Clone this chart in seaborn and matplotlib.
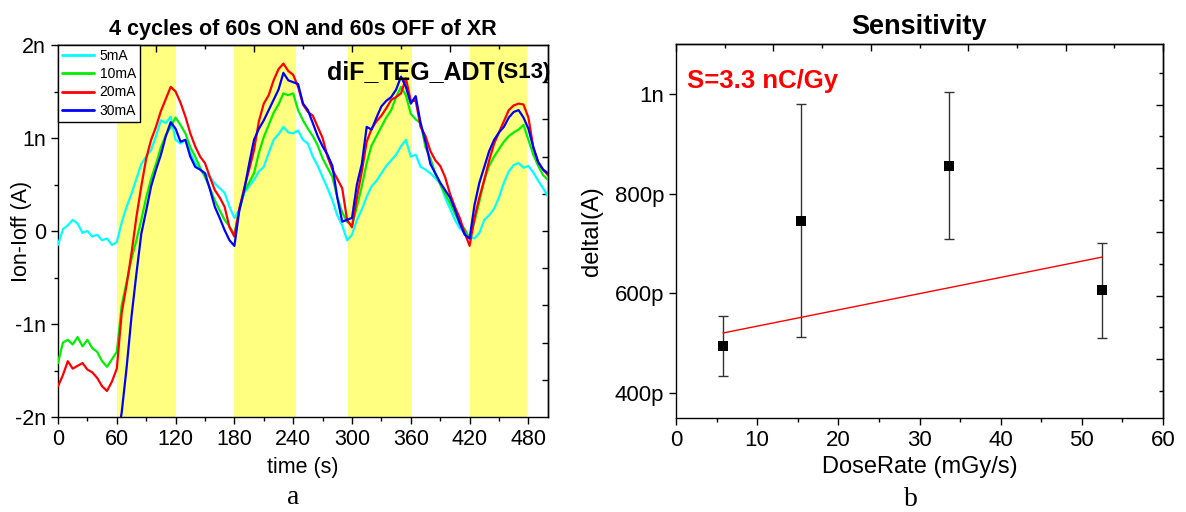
import numpy as np
import pandas as pd
import matplotlib
matplotlib.use("Agg")
import matplotlib.pyplot as plt
from matplotlib.ticker import FuncFormatter, MultipleLocator
from matplotlib.lines import Line2D
import seaborn as sns

# ---------------- data: panel a ----------------
time_s = np.arange(0, 501, 5)
series_names = ["5mA", "10mA", "20mA", "30mA"]
series_colors = ["#00ffff", "#00f000", "#ff0000", "#0000ff"]

i_5mA = [
    -0.15, 0.02, 0.06, 0.12, 0.08, -0.02, 0.00, -0.06, -0.04, -0.10,
    -0.08, -0.15, -0.12, 0.09, 0.26, 0.40, 0.56, 0.72, 0.80, 0.87,
    1.02, 1.19, 1.16, 1.23, 0.98, 0.94, 0.98, 0.84, 0.73, 0.66,
    0.62, 0.58, 0.51, 0.46, 0.41, 0.26, 0.14, 0.23, 0.41, 0.48,
    0.55, 0.64, 0.69, 0.84, 0.98, 1.04, 1.12, 1.06, 1.05, 1.08,
    0.98, 0.94, 0.80, 0.70, 0.58, 0.46, 0.33, 0.17, 0.06, -0.10,
    -0.04, 0.12, 0.23, 0.37, 0.48, 0.54, 0.62, 0.70, 0.76, 0.82,
    0.91, 0.98, 0.80, 0.82, 0.69, 0.66, 0.62, 0.57, 0.51, 0.36,
    0.24, 0.12, 0.03, -0.02, -0.06, -0.08, -0.02, 0.12, 0.17, 0.24,
    0.36, 0.52, 0.64, 0.71, 0.73, 0.68, 0.70, 0.63, 0.54, 0.46,
    0.37]
i_10mA = [
    -1.42, -1.20, -1.17, -1.22, -1.14, -1.24, -1.17, -1.26, -1.30, -1.40,
    -1.46, -1.38, -1.30, -0.80, -0.55, -0.30, -0.10, 0.12, 0.36, 0.56,
    0.72, 0.90, 1.03, 1.12, 1.22, 1.14, 1.05, 0.90, 0.80, 0.68,
    0.58, 0.46, 0.33, 0.22, 0.12, 0.05, -0.04, 0.23, 0.42, 0.52,
    0.62, 0.84, 1.01, 1.14, 1.27, 1.36, 1.48, 1.46, 1.48, 1.30,
    1.19, 1.10, 1.02, 0.92, 0.78, 0.68, 0.58, 0.36, 0.20, 0.10,
    0.06, 0.26, 0.48, 0.73, 0.92, 1.02, 1.12, 1.22, 1.30, 1.44,
    1.55, 1.46, 1.26, 1.20, 1.16, 0.90, 0.78, 0.62, 0.50, 0.40,
    0.30, 0.19, 0.08, 0.02, -0.08, 0.10, 0.32, 0.55, 0.70, 0.80,
    0.88, 0.96, 1.02, 1.06, 1.09, 1.14, 0.98, 0.82, 0.70, 0.60,
    0.55]
i_20mA = [
    -1.67, -1.55, -1.40, -1.48, -1.45, -1.42, -1.49, -1.52, -1.58, -1.67,
    -1.72, -1.62, -1.48, -0.88, -0.58, -0.24, 0.15, 0.48, 0.78, 0.98,
    1.12, 1.29, 1.42, 1.55, 1.50, 1.38, 1.23, 1.05, 0.91, 0.80,
    0.73, 0.58, 0.44, 0.36, 0.26, 0.04, -0.06, 0.24, 0.46, 0.66,
    0.87, 1.18, 1.37, 1.46, 1.62, 1.74, 1.80, 1.72, 1.68, 1.55,
    1.36, 1.28, 1.24, 1.12, 1.00, 0.80, 0.66, 0.56, 0.46, 0.12,
    0.04, 0.36, 0.64, 0.96, 1.10, 1.18, 1.24, 1.32, 1.41, 1.44,
    1.48, 1.64, 1.40, 1.40, 1.12, 1.02, 0.86, 0.76, 0.70, 0.58,
    0.40, 0.26, 0.14, -0.02, -0.16, 0.14, 0.36, 0.55, 0.76, 0.94,
    1.06, 1.18, 1.30, 1.35, 1.37, 1.36, 1.22, 0.90, 0.74, 0.66,
    0.60]
i_30mA = [
    np.nan, np.nan, np.nan, np.nan, np.nan, np.nan, np.nan, np.nan, np.nan, np.nan,
    np.nan, np.nan, -2.30, -1.95, -1.47, -0.92, -0.46, -0.03, 0.22, 0.48,
    0.66, 0.82, 1.02, 1.17, 1.10, 0.96, 0.98, 0.80, 0.69, 0.66,
    0.62, 0.45, 0.26, 0.14, 0.01, -0.10, -0.16, 0.22, 0.44, 0.72,
    0.98, 1.10, 1.19, 1.30, 1.41, 1.52, 1.70, 1.62, 1.60, 1.58,
    1.37, 1.30, 1.16, 1.02, 0.91, 0.82, 0.70, 0.36, 0.10, 0.12,
    0.14, 0.50, 0.72, 1.12, 1.09, 1.22, 1.34, 1.40, 1.44, 1.52,
    1.66, 1.55, 1.37, 1.45, 1.16, 0.96, 0.72, 0.62, 0.52, 0.44,
    0.36, 0.23, 0.08, -0.04, -0.08, 0.28, 0.52, 0.69, 0.86, 0.98,
    1.06, 1.12, 1.22, 1.28, 1.30, 1.22, 1.10, 0.90, 0.74, 0.66,
    0.62]
xray_on_start = [60, 180, 296, 420]
xray_on_end = [120, 243, 361, 479]

# ---------------- data: panel b ----------------
dose_rate = [5.8, 15.4, 33.6, 52.5]          # mGy/s
delta_pA = [494, 746, 856, 606]               # pA
delta_err_pA = [60, 233, 148, 95]             # pA

# ---------------- style ----------------
sns.set_style("ticks")
plt.rcParams["font.family"] = ["Liberation Sans", "DejaVu Sans"]
plt.rcParams["axes.linewidth"] = 1.0
plt.rcParams["xtick.color"] = "black"
plt.rcParams["ytick.color"] = "black"
plt.rcParams["text.color"] = "black"
plt.rcParams["axes.labelcolor"] = "black"
plt.rcParams["axes.edgecolor"] = "black"

W, H = 1186, 512
fig = plt.figure(figsize=(W / 100, H / 100), dpi=100)
axA = fig.add_axes([58 / W, 1 - 417 / H, 490 / W, 372 / H])
axB = fig.add_axes([676 / W, 1 - 418 / H, 487 / W, 374 / H])

# ---------------- panel a ----------------
for s, e in zip(xray_on_start, xray_on_end):
    axA.axvspan(s, e, color="#ffff80", lw=0, zorder=0)

frames = []
for name, vals in zip(series_names, [i_5mA, i_10mA, i_20mA, i_30mA]):
    frames.append(pd.DataFrame({"t": time_s, "I": vals, "series": name}))
dfA = pd.concat(frames, ignore_index=True)
sns.lineplot(data=dfA, x="t", y="I", hue="series", hue_order=series_names,
             palette=series_colors, estimator=None, sort=False, lw=1.6,
             legend=False, ax=axA, zorder=3)

axA.set_xlim(0, 500)
axA.set_ylim(-2, 2)
axA.xaxis.set_major_locator(MultipleLocator(60))
axA.xaxis.set_minor_locator(MultipleLocator(30))
axA.yaxis.set_major_locator(MultipleLocator(1))
axA.yaxis.set_minor_locator(MultipleLocator(0.5))
axA.yaxis.set_major_formatter(FuncFormatter(lambda v, p: "0" if abs(v) < 1e-9 else f"{v:g}n"))
axA.tick_params(which="both", direction="out", top=False, right=False, labelsize=15.5, width=1)
axA.tick_params(which="major", length=5)
axA.tick_params(which="minor", length=3)
axA.set_xlabel("time (s)", fontsize=15.5, labelpad=5)
axA.set_ylabel("Ion-Ioff (A)", fontsize=15.5)
axA.yaxis.set_label_coords(-0.053, 0.5)
axA.set_title("4 cycles of 60s ON and 60s OFF of XR", fontsize=15.5, fontweight="bold", pad=7)

secAx = axA.secondary_xaxis("top")
secAx.set_xticks([100, 200, 300, 400])
secAx.set_xticks([50, 150, 250, 350, 450], minor=True)
secAx.tick_params(which="both", direction="in", labeltop=False, width=1)
secAx.tick_params(which="major", length=5)
secAx.tick_params(which="minor", length=3)
secAy = axA.secondary_yaxis("right")
secAy.set_yticks([-1.6, -1.2, -0.8, -0.4, 0.0, 0.4, 0.8, 1.2, 1.6])
secAy.tick_params(direction="in", labelright=False, length=4, width=1)

handles = [Line2D([0], [0], color=c, lw=2) for c in series_colors]
leg = axA.legend(handles, series_names, loc="upper left", fontsize=10,
                 frameon=True, fancybox=False, edgecolor="black", framealpha=1,
                 borderaxespad=0, handlelength=2.3, labelspacing=0.3,
                 handletextpad=0.4, borderpad=0.3)
leg.get_frame().set_linewidth(1.0)
leg.set_zorder(5)

axA.text(274, 1.63, "diF_TEG_ADT", fontsize=18, fontweight="bold", ha="left", va="baseline", zorder=6)
axA.text(448, 1.64, "(S13)", fontsize=16, fontweight="bold", ha="left", va="baseline",
         zorder=6, clip_on=False)

fig.text(293 / W, 1 - 498 / H, "a", fontsize=20, family=["Liberation Serif", "DejaVu Serif"],
         ha="center", va="center")

# ---------------- panel b ----------------
dfB = pd.DataFrame({"dose": dose_rate, "delta": delta_pA, "err": delta_err_pA})
coef = np.polyfit(dfB["dose"], dfB["delta"], 1, w=1.0 / dfB["err"])
fit_x = np.array([min(dose_rate), max(dose_rate)])
dfFit = pd.DataFrame({"dose": fit_x, "fit": np.polyval(coef, fit_x)})

axB.errorbar(dfB["dose"], dfB["delta"], yerr=dfB["err"], fmt="none", ecolor="#333333",
             elinewidth=1.0, capsize=3.5, capthick=1.0, zorder=2)
sns.lineplot(data=dfFit, x="dose", y="fit", color="#ff0000", lw=1.0, ax=axB, zorder=3)
sns.scatterplot(data=dfB, x="dose", y="delta", marker="s", s=45, color="black",
                linewidth=0, ax=axB, zorder=4)

axB.set_xlim(0, 60)
axB.set_ylim(350, 1100)
axB.xaxis.set_major_locator(MultipleLocator(10))
axB.xaxis.set_minor_locator(MultipleLocator(5))
axB.set_yticks([400, 600, 800, 1000])
axB.yaxis.set_major_formatter(FuncFormatter(lambda v, p: f"{v / 1000:g}n" if v >= 1000 else f"{v:g}p"))
axB.tick_params(which="both", direction="out", top=False, right=False, labelsize=16, width=1)
axB.tick_params(which="major", length=5)
axB.tick_params(which="minor", length=3)
axB.set_xlabel("DoseRate (mGy/s)", fontsize=17, labelpad=4)
axB.set_ylabel("deltaI(A)", fontsize=17)
axB.yaxis.set_label_coords(-0.150, 0.5)
axB.set_title("Sensitivity", fontsize=19.5, fontweight="bold", pad=7)

secBx = axB.secondary_xaxis("top")
secBx.set_xticks([0, 12, 24, 36, 48, 60])
secBx.set_xticks([6, 18, 30, 42, 54], minor=True)
secBx.tick_params(which="both", direction="in", labeltop=False, width=1)
secBx.tick_params(which="major", length=5)
secBx.tick_params(which="minor", length=3)
secBy = axB.secondary_yaxis("right")
secBy.set_yticks([468, 595, 723, 851, 978])
secBy.set_yticks([405, 532, 659, 787, 915, 1042], minor=True)
secBy.tick_params(which="both", direction="in", labelright=False, width=1)
secBy.tick_params(which="major", length=5)
secBy.tick_params(which="minor", length=3)

axB.text(1.36, 1026, f"S={coef[0]:.1f} nC/Gy", color="#ff0000", fontsize=18.5,
         fontweight="bold", ha="left", va="center")

fig.text(911 / W, 1 - 500 / H, "b", fontsize=20, family=["Liberation Serif", "DejaVu Serif"],
         ha="center", va="center")

for ax in (axA, axB):
    for sp in ax.spines.values():
        sp.set_visible(True)
        sp.set_color("black")

fig.savefig("out.png", dpi=100)
